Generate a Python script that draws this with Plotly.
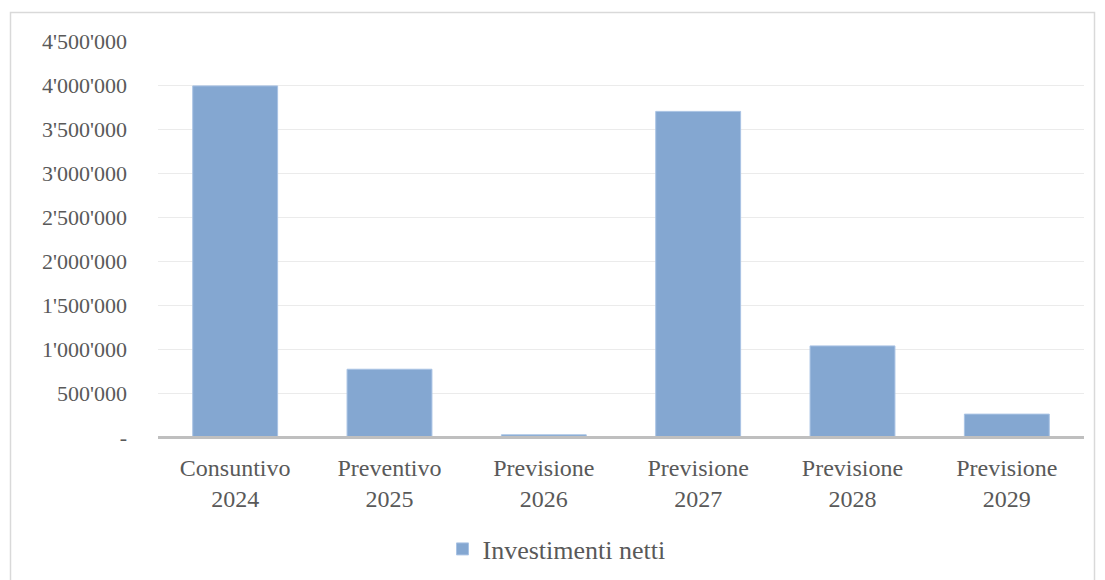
import plotly.graph_objects as go

categories = ["Consuntivo<br>2024", "Preventivo<br>2025", "Previsione<br>2026",
              "Previsione<br>2027", "Previsione<br>2028", "Previsione<br>2029"]
investimenti_netti = [3990000, 770000, 25000, 3700000, 1035000, 260000]
tick_values = [0, 500000, 1000000, 1500000, 2000000, 2500000, 3000000, 3500000, 4000000, 4500000]
tick_labels = ["-", "500'000", "1'000'000", "1'500'000", "2'000'000", "2'500'000",
               "3'000'000", "3'500'000", "4'000'000", "4'500'000"]
series_name = "Investimenti netti"

# page offset (body margin) of 8px
OFF = 8
W, H = 1105 - OFF, 580 - OFF
L, T = 158 - OFF, 41 - OFF
pw, ph = 926, 396
R = W - L - pw
B = H - T - ph

def px_x(x):
    return (x - OFF - L) / pw

def px_y(y):
    return (T + ph - (y - OFF)) / ph

fig = go.Figure()
fig.add_trace(go.Bar(
    x=categories, y=investimenti_netti, name=series_name,
    marker=dict(color="#84A7D1", line=dict(color="#A9C3E4", width=1)),
    showlegend=True,
))

font_family = "'Liberation Serif', 'Times New Roman', serif"
fig.update_layout(
    width=W, height=H,
    margin=dict(l=L, r=R, t=T, b=B, autoexpand=False),
    paper_bgcolor="white", plot_bgcolor="white",
    font=dict(family=font_family, color="#595959", size=22),
    bargap=0.45,
    showlegend=True,
    legend=dict(orientation="h", x=0.5, xanchor="center", xref="container",
                yref="container", y=(H - (549 - OFF)) / H, yanchor="middle",
                font=dict(family=font_family, size=26, color="#595959"), itemwidth=30),
    xaxis=dict(showgrid=False, showline=False, ticks="", automargin=False,
               tickfont=dict(family=font_family, size=24),
               ticklabelstandoff=14, fixedrange=True),
    yaxis=dict(range=[0, 4500000], tickvals=tick_values, ticktext=tick_labels,
               automargin=False,
               showgrid=True, gridcolor="#EBEBEB", gridwidth=1, zeroline=False,
               showline=False, ticks="", ticklabelstandoff=30,
               tickfont=dict(family=font_family, size=22)),
    shapes=[
        dict(type="rect", xref="paper", yref="paper",
             x0=px_x(10.5), x1=px_x(1094.5), y0=px_y(600), y1=px_y(12.5),
             line=dict(color="#D9D9D9", width=1.5), fillcolor="rgba(0,0,0,0)", layer="below"),
        dict(type="line", xref="paper", yref="paper", x0=0, x1=1, y0=px_y(437.5), y1=px_y(437.5),
             line=dict(color="#BFBFBF", width=3), layer="above"),
    ],
)

fig.write_html("out.html")
